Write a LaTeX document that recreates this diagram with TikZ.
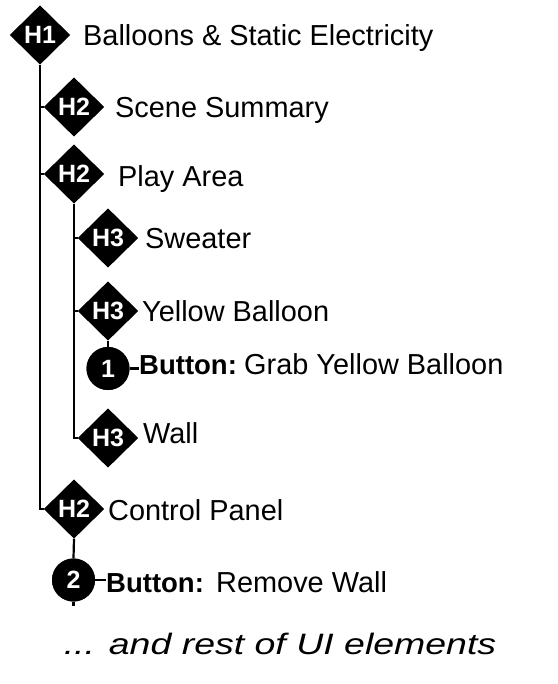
\documentclass[tikz,border=0pt]{standalone}
\usepackage{fontspec}
\setmainfont{Liberation Sans}
\usetikzlibrary{shapes.geometric}
\begin{document}
\begin{tikzpicture}[x=1pt,y=-1pt,
  conn/.style={line width=2.2pt,black},
  hbox/.style={diamond,fill=black,draw=none,minimum width=60pt,minimum height=59pt,inner sep=0pt,
    text=white,font=\fontsize{25}{27}\selectfont\bfseries},
  numbox/.style={circle,fill=black,draw=none,minimum size=43pt,inner sep=0pt,
    text=white,font=\fontsize{25}{27}\selectfont\bfseries},
  lbl/.style={anchor=base west,inner sep=0pt,font=\fontsize{28.9}{32}\selectfont},
  blbl/.style={anchor=base west,inner sep=0pt,font=\fontsize{27.5}{32}\selectfont\bfseries}
]
\useasboundingbox (0,0) rectangle (557,684);
\fill[white] (0,0) rectangle (557,684);

% heading markers
\node[hbox] (h1) at (40,35) {H1};
\node[hbox] (ss) at (74,107) {H2};
\node[hbox] (pa) at (74,174) {H2};
\node[hbox] (sw) at (108,238) {H3};
\node[hbox] (yb) at (108,311) {H3};
\node[numbox] (c1) at (108,368.5) {1};
\node[hbox] (wa) at (108,438) {H3};
\node[hbox] (cp) at (74,509) {H2};
\node[numbox] (c2) at (73.5,580) {2};
\coordinate (tail) at (73.5,606);

% labels
\node[lbl] (t1) at (83,46) {Balloons \& Static Electricity};
\node[lbl] (t2) at (115,118) {Scene Summary};
\node[lbl] (t3) at (118,187) {Play Area};
\node[lbl] (t4) at (145,249) {Sweater};
\node[lbl] (t5) at (142,321) {Yellow Balloon};
\node[blbl] (b1) at (139,374) {Button:};
\node[lbl] (g1) at (244,374) {Grab Yellow Balloon};
\node[lbl] (t6) at (143,443) {Wall};
\node[lbl] (t7) at (108,520) {Control Panel};
\node[blbl] (b2) at (106,592) {Button:};
\node[lbl] (g2) at (216,592) {Remove Wall};
\node[anchor=base,inner sep=0pt,font=\fontsize{29.5}{34}\selectfont\itshape] (more) at (280,654)
  {\scalebox{1.27}[1]{... and rest of UI elements}};

% connectors
\draw[conn] (h1.south) |- (cp.west);
\draw[conn] (h1.south |- ss.west) -- (ss.west);
\draw[conn] (h1.south |- pa.west) -- (pa.west);
\draw[conn] (pa.south) |- (wa.west);
\draw[conn] (pa.south |- sw.west) -- (sw.west);
\draw[conn] (pa.south |- yb.west) -- (yb.west);
\draw[conn] (yb.south) -- (c1.north);
\draw[conn] (c1.east) -- (c1.east -| b1.west);
\draw[conn] (cp.south) -- (c2.north);
\draw[conn] (c2.south) -- (tail);
\draw[conn] (c2.east) -- (c2.east -| b2.west);

% redraw markers on top
\node[hbox] at (h1) {H1};
\node[hbox] at (ss) {H2};
\node[hbox] at (pa) {H2};
\node[hbox] at (sw) {H3};
\node[hbox] at (yb) {H3};
\node[numbox] at (c1) {1};
\node[hbox] at (wa) {H3};
\node[hbox] at (cp) {H2};
\node[numbox] at (c2) {2};
\end{tikzpicture}
\end{document}
